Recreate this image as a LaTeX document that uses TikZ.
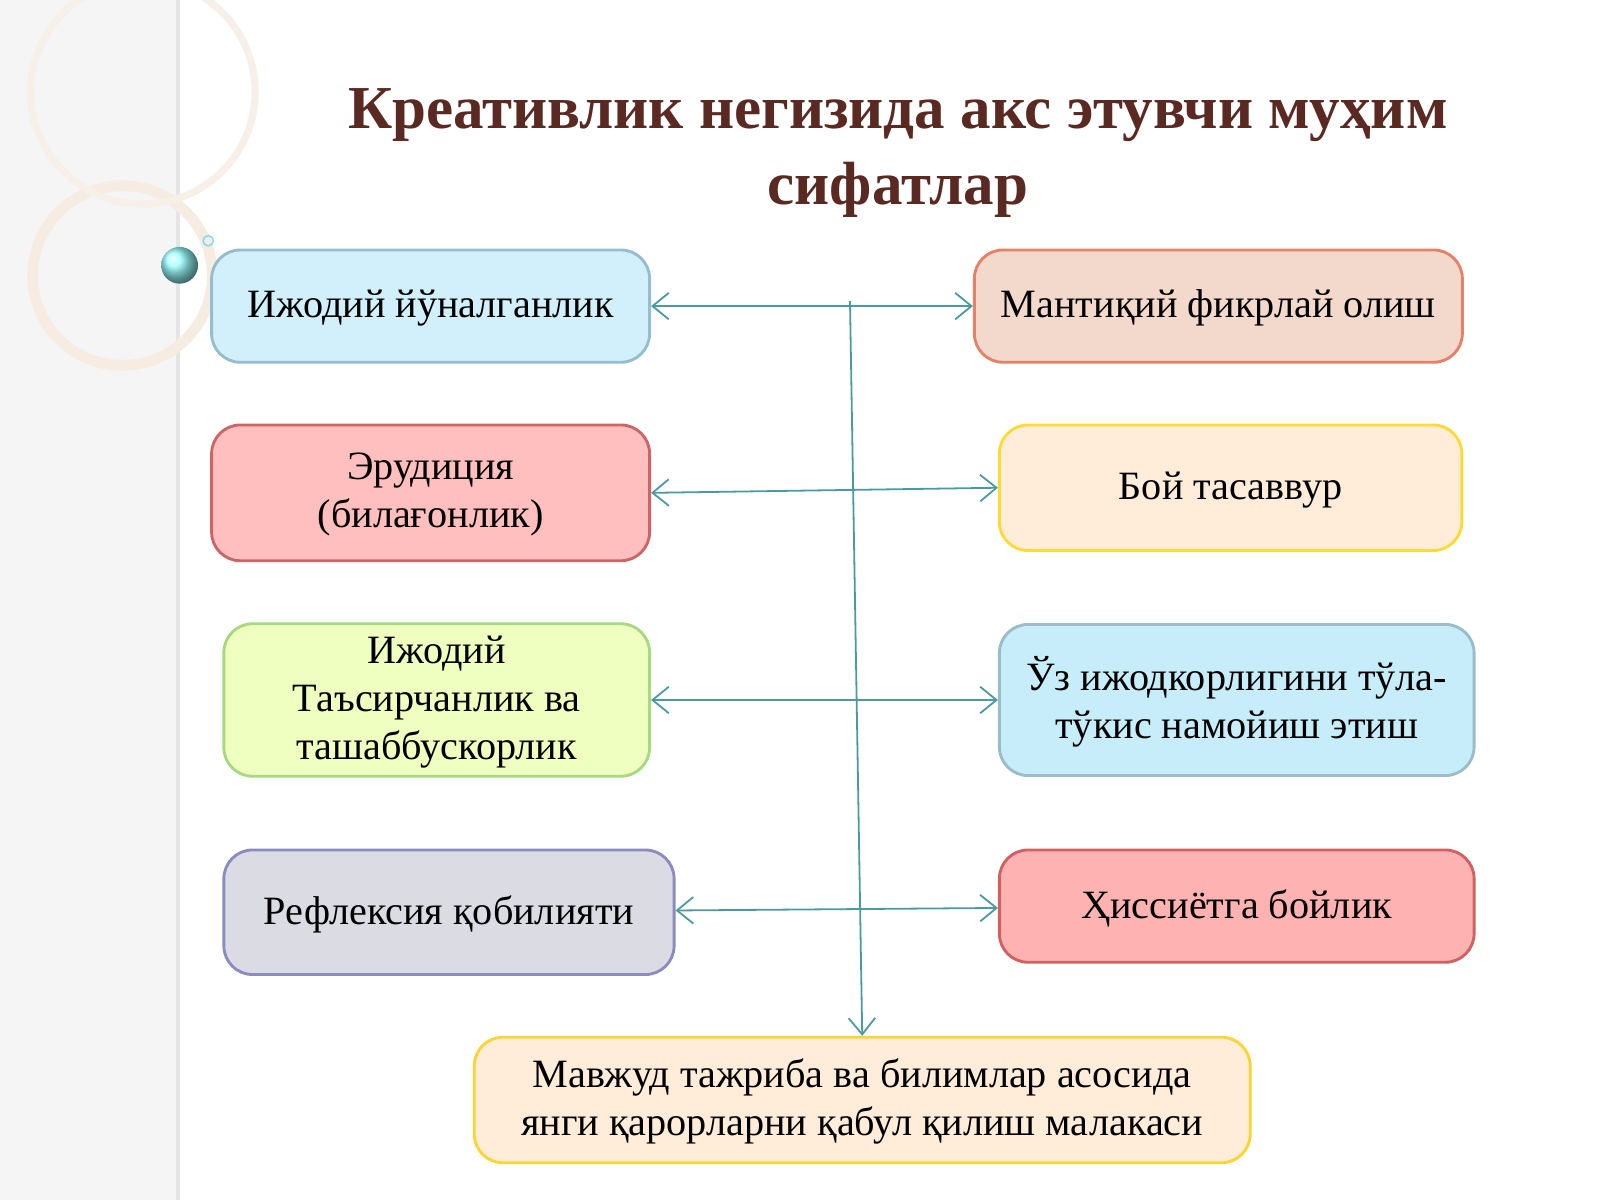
\documentclass[tikz,border=0pt]{standalone}
\usepackage{fontspec}
\setmainfont{Liberation Serif}
\usepackage{xcolor}
\definecolor{titleDark}{HTML}{5A2A22}
\definecolor{lineTeal}{HTML}{4A9AA0}
\usetikzlibrary{positioning,arrows.meta}
\tikzset{
  itemBox/.style={
    rectangle,
    rounded corners=8pt,
    line width=0.8pt,
    align=center,
    text depth=0.3ex,
    font=\fontsize{11.2}{13.4}\selectfont
 },
  linkLine/.style={
    {Straight Barb[length=1.6mm,width=2.6mm]}-{Straight Barb[length=1.6mm,width=2.6mm]},
    line width=0.5pt,
    color=lineTeal
 }
}

\begin{document}
\begin{tikzpicture}[x=0.01cm,y=-0.01cm]
            \useasboundingbox (0,0) rectangle (1568,1176);

            % Background strip
            \fill[gray!8] (0,0) rectangle (172,1176);
            \fill[gray!20] (172,0) rectangle (176,1176);
            \draw[brown!15, line width=3pt] (120,270) circle (0.88cm);
            \draw[brown!12, line width=2pt] (140,90) circle (1.1cm);
            \shade[ball color=cyan!40] (176,260) circle (0.18cm);
            \draw[cyan!50] (204,236) circle (0.05cm);

            % Title
            \node[font=\fontsize{17}{21}\selectfont\bfseries, text=titleDark, align=center] (title) at (880,150)
              {Креативлик негизида акс этувчи муҳим\\сифатлар};

            % Left column
            \node[itemBox, draw=cyan!40!gray!70, fill=cyan!18, minimum width=4.29cm, minimum height=1.1cm] (ijod) at (422,300) {Ижодий йўналганлик};
            \node[itemBox, draw=red!50!gray!80, fill=red!25, minimum width=4.29cm, minimum height=1.33cm] (erud) at (422,483) {Эрудиция\\(билағонлик)};
            \node[itemBox, draw=green!40!olive!50, fill=lime!25, minimum width=4.17cm, minimum height=1.48cm] (tasir) at (428,686) {Ижодий\\Таъсирчанлик ва\\ташаббускорлик};
            \node[itemBox, draw=blue!30!gray!70, fill=blue!12!gray!25, minimum width=4.41cm, minimum height=1.22cm] (refl) at (440,894) {Рефлексия қобилияти};

            % Right column
            \node[itemBox, draw=red!40!brown!70, fill=red!20!brown!25, minimum width=4.78cm, minimum height=1.1cm] (mant) at (1194,300) {Мантиқий фикрлай олиш};
            \node[itemBox, draw=yellow!70!orange!80, fill=orange!15, minimum width=4.53cm, minimum height=1.23cm] (boy) at (1206,478) {Бой тасаввур};
            \node[itemBox, draw=cyan!35!gray!70, fill=cyan!22, minimum width=4.65cm, minimum height=1.48cm] (uz) at (1212,686) {Ўз ижодкорлигини тўла-\\тўкис намойиш этиш};
            \node[itemBox, draw=red!55!gray!80, fill=red!30, minimum width=4.65cm, minimum height=1.1cm] (his) at (1212,888) {Ҳиссиётга бойлик};

            % Bottom
            \node[itemBox, draw=yellow!65!orange!80, fill=orange!15, minimum width=7.6cm, minimum height=1.23cm] (mavj) at (845,1078) {Мавжуд тажриба ва билимлар асосида\\янги қарорларни қабул қилиш малакаси};

            % Arrows
            \draw[linkLine] (ijod) -- (mant);
            \draw[linkLine] (erud.east) -- (boy.west);
            \draw[linkLine] (tasir) -- (uz);
            \draw[linkLine] (refl) -- (his);
            \coordinate (top) at (833,295);
            \draw[-{Straight Barb[length=1.6mm,width=2.6mm]}, line width=0.5pt, lineTeal] (top) -- (mavj.north);

        \end{tikzpicture}
\end{document}
